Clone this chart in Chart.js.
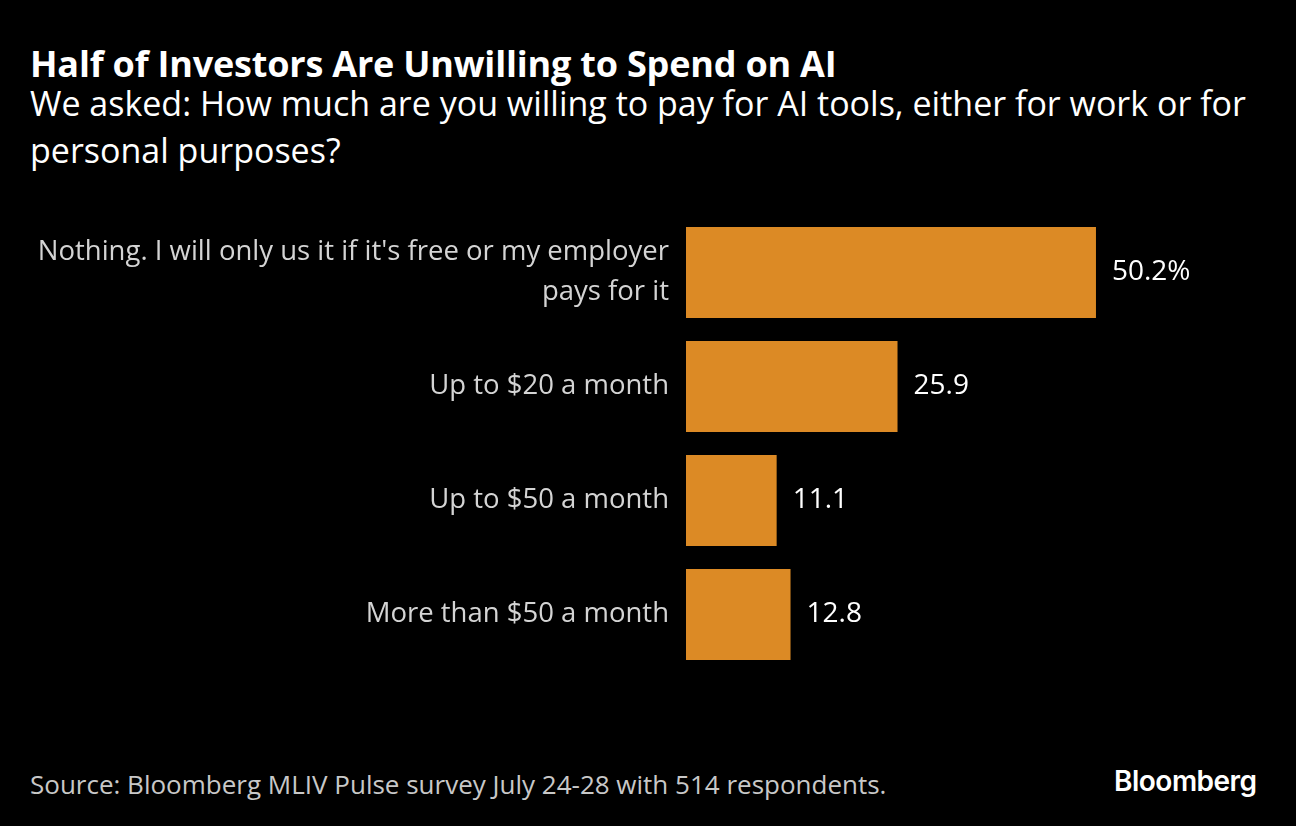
<!DOCTYPE html>
<html>
<head>
<meta charset="utf-8">
<script src="https://cdn.jsdelivr.net/npm/chart.js@4"></script>
<style>
  html, body { margin: 0; padding: 0; background: #000; }
  body { width: 1296px; height: 826px; position: relative; overflow: hidden; font-family: "Open Sans", sans-serif; }
  #title { position: absolute; left: 30px; top: 44px; color: #fff; font-weight: 700; font-size: 36px; line-height: 40px; letter-spacing: -0.2px; }
  #subtitle { position: absolute; left: 30px; top: 80px; width: 1250px; color: #fff; font-size: 34px; line-height: 47px; }
  #source { position: absolute; left: 30px; top: 766px; color: #c8c8c8; font-size: 26px; }
  #logo { position: absolute; left: 1114px; top: 764px; color: #fff; font-family: Inter, sans-serif; font-weight: 600; font-size: 28px; letter-spacing: -0.5px; }
  #wrap { position: absolute; left: 0; top: 200px; width: 1296px; height: 490px; }
</style>
</head>
<body>
<div id="title">Half of Investors Are Unwilling to Spend on AI</div>
<div id="subtitle">We asked: How much are you willing to pay for AI tools, either for work or for personal purposes?</div>
<div id="wrap"><canvas id="chart"></canvas></div>
<div id="source">Source: Bloomberg MLIV Pulse survey July 24-28 with 514 respondents.</div>
<div id="logo">Bloomberg</div>

<script>
// answers, top to bottom
const categories = [
    ["Nothing. I will only us it if it's free or my employer", "pays for it"],
    "Up to $20 a month",
    "Up to $50 a month",
    "More than $50 a month"
];
const shares = [50.2, 25.9, 11.1, 12.8];
const valueLabels = ["50.2%", "25.9", "11.1", "12.8"];

const barColor = '#dc8a25';

// write the numbers just past the end of each bar
const valueLabelPlugin = {
    id: 'valueLabels',
    afterDatasetsDraw(chart) {
        const ctx = chart.ctx;
        const meta = chart.getDatasetMeta(0);
        ctx.save();
        ctx.fillStyle = '#ffffff';
        ctx.font = '28px "Open Sans", sans-serif';
        ctx.textAlign = 'left';
        ctx.textBaseline = 'middle';
        meta.data.forEach((bar, i) => {
            ctx.fillText(valueLabels[i], bar.x + 16, bar.y);
        });
        ctx.restore();
    }
};

new Chart(document.getElementById('chart'), {
    type: 'bar',
    data: {
        labels: categories,
        datasets: [{
            data: shares,
            backgroundColor: barColor,
            borderWidth: 0,
            barPercentage: 0.8,
            categoryPercentage: 1.0
        }]
    },
    options: {
        indexAxis: 'y',
        responsive: true,
        maintainAspectRatio: false,
        animation: false,
        layout: { padding: { top: 15.5, bottom: 18.5, right: 120, left: 0 } },
        plugins: {
            legend: { display: false },
            tooltip: { enabled: false }
        },
        scales: {
            x: {
                display: false,
                min: 0,
                max: 60
            },
            y: {
                afterFit(scale) {
                    scale.width = 686;
                    // labels sit inside the bands, no need for extra room
                    scale.paddingTop = 0;
                    scale.paddingBottom = 0;
                },
                grid: { display: false, drawTicks: false },
                border: { display: false },
                ticks: {
                    color: '#d4d4d4',
                    padding: 17,
                    font: { family: '"Open Sans", sans-serif', size: 27.5, lineHeight: 1.45 }
                }
            }
        }
    },
    plugins: [valueLabelPlugin]
});
</script>
</body>
</html>
